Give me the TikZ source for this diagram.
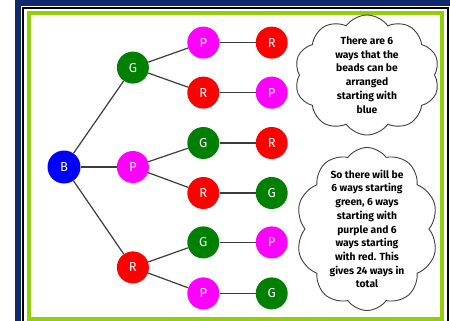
\documentclass[tikz,border=0pt]{standalone}
\usepackage{fontspec}
\usepackage{tikz}
\usetikzlibrary{positioning,shapes.symbols}
\newfontfamily\beadfont{Fira Sans}
\definecolor{framenavy}{RGB}{16,40,110}
\definecolor{framegreen}{RGB}{150,205,10}
\definecolor{beadgreen}{RGB}{0,128,0}
\definecolor{beadpink}{RGB}{255,0,255}
\definecolor{beadred}{RGB}{255,0,0}
\definecolor{beadblue}{RGB}{0,0,255}
\definecolor{stem}{RGB}{60,60,60}

\begin{document}
\begin{tikzpicture}[%
    x=1pt,y=-1pt,node distance=36pt,
    bead/.style={%
      circle,minimum size=32pt,inner sep=0pt,text=white,font=\beadfont\fontsize{13}{13}\selectfont},
    gbead/.style={bead,fill=beadgreen},
    pbead/.style={bead,fill=beadpink},
    rbead/.style={bead,fill=beadred},
    note/.style={%
      cloud,cloud puffs=10,cloud puff arc=110,cloud ignores aspect,inner sep=0pt,
      draw=black!75,line width=0.9pt,fill=white},
    notetext/.style={%
      align=center,font=\beadfont\bfseries\fontsize{10.3}{13.7}\selectfont}
  ]
    \useasboundingbox (0,0) rectangle (450,321);
    % frame
    \fill[framenavy] (15,0) rectangle (460,330);
    \fill[white] (21,6) rectangle (460,330);
    \draw[black,line width=1.6pt] (23,8) rectangle (448,330);
    \draw[framegreen,line width=4pt] (28.5,13) rectangle (441.5,319);

    % beads
    \node[bead,fill=beadblue,minimum size=33pt] (b) at (64,167) {B};
    \node[pbead] (p) [right=of b]               {P};
    \node[gbead] (g) [node distance=67pt, above=of p] {G};
    \node[rbead] (r) [node distance=68pt, below=of p] {R};

    \node[pbead] (gp) [right=38pt of g, yshift=25pt]  {P};
    \node[rbead] (gr) [right=38pt of g, yshift=-25pt] {R};
    \node[gbead] (pg) [right=38pt of p, yshift=24pt]  {G};
    \node[rbead] (pr) [right=38pt of p, yshift=-26pt] {R};
    \node[gbead] (rg) [right=38pt of r, yshift=25pt]  {G};
    \node[pbead] (rp) [right=38pt of r, yshift=-26pt] {P};

    \node[rbead] (gpr) [right=of gp] {R};
    \node[pbead] (grp) [right=of gr] {P};
    \node[rbead] (pgr) [right=of pg] {R};
    \node[gbead] (prg) [right=of pr] {G};
    \node[pbead] (rgp) [right=of rg] {P};
    \node[gbead] (rpg) [right=of rp] {G};

    \path[stem,line width=1.2pt]
          (b)  edge (g) edge (p) edge (r)
          (g)  edge (gp) edge (gr)
          (p)  edge (pg) edge (pr)
          (r)  edge (rg) edge (rp)
          (gp) edge (gpr)
          (gr) edge (grp)
          (pg) edge (pgr)
          (pr) edge (prg)
          (rg) edge (rgp)
          (rp) edge (rpg)
          ;

    % notes
    \node[note,minimum width=145pt,minimum height=120pt,
          label={[notetext]center:{There are 6\\ways that the\\beads can be\\arranged\\starting with\\blue}}]
          (blue) at (367,75) {};
    \node[note,minimum width=142pt,minimum height=163pt,
          label={[notetext]center:{So there will be\\6 ways starting\\green, 6 ways\\starting with\\purple and 6\\ways starting\\with red. This\\gives 24 ways in\\total}}]
          (rest) at (367,229) {};
\end{tikzpicture}
\end{document}
